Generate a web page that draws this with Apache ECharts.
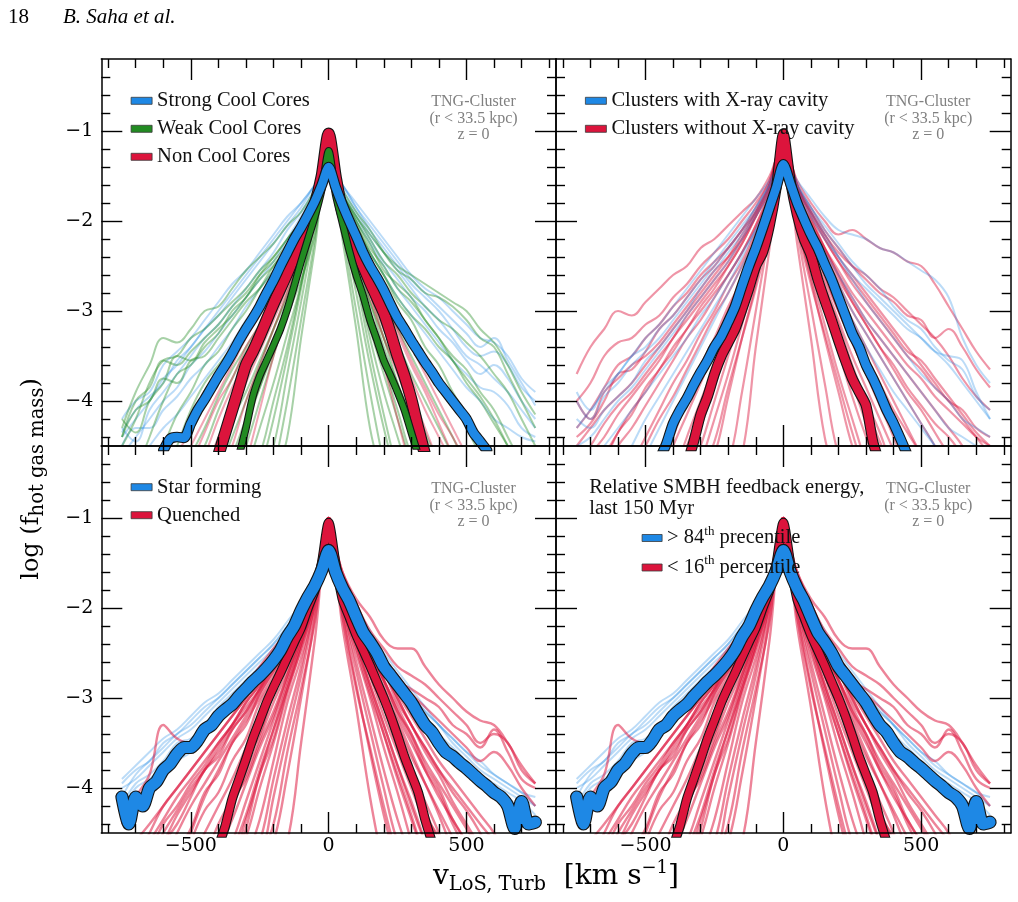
<!DOCTYPE html>
<html><head><meta charset="utf-8">
<script src="https://cdn.jsdelivr.net/npm/echarts@6/dist/echarts.min.js"></script>
<style>html,body{margin:0;padding:0;background:#fff}#c{width:1018px;height:902px}</style>
</head><body><div id="c"></div>
<script>
// ---------------- axis ticks ----------------
const X_MAJOR = [-500, 0, 500];
const X_MINOR = [-800, -700, -600, -400, -300, -200, -100, 100, 200, 300, 400, 600, 700, 800];
const Y_MAJOR = [-4, -3, -2, -1];
const Y_MINOR = [-4.4, -4.2, -3.8, -3.6, -3.4, -3.2, -2.8, -2.6, -2.4, -2.2, -1.8, -1.6, -1.4, -1.2, -0.8, -0.6, -0.4];
const X_RANGE = [-825, 825];
const Y_RANGE = [-4.5, -0.2];

// ---------------- legend labels ----------------
const legendTL = ['Strong Cool Cores', 'Weak Cool Cores', 'Non Cool Cores'];
const legendTR = ['Clusters with X-ray cavity', 'Clusters without X-ray cavity'];
const legendBL = ['Star forming', 'Quenched'];
const legendBR = ['> 84th precentile', '< 16th percentile'];

// ---------------- medians (velocity step 25 km/s, starting at "from") ----------------
const sccMedian = {from: -600, y: [-4.55,-4.42,-4.4,-4.41,-4.25,-4.1,-3.98,-3.85,-3.72,-3.6,-3.47,-3.33,-3.2,-3.08,-2.95,-2.8,-2.66,-2.5,-2.35,-2.2,-2.07,-1.93,-1.78,-1.6,
  -1.4,
  -1.62,-1.82,-2.0,-2.17,-2.35,-2.5,-2.63,-2.77,-2.93,-3.08,-3.2,-3.33,-3.45,-3.57,-3.68,-3.8,-3.9,-4.0,-4.1,-4.2,-4.35,-4.45,-4.55]};
const wccMedian = {from: -325, y: [-4.6,-4.3,-3.95,-3.72,-3.55,-3.38,-3.2,-2.98,-2.72,-2.45,-2.2,-1.95,-1.65,
  -1.22,
  -1.7,-2.02,-2.33,-2.6,-2.83,-3.1,-3.32,-3.55,-3.72,-3.9,-4.1,-4.35,-4.6]};
const nccMedian = {from: -400, y: [-4.6,-4.35,-4.1,-3.85,-3.6,-3.45,-3.28,-3.1,-2.92,-2.75,-2.58,-2.4,-2.23,-2.05,-1.82,-1.5,
  -1.03,
  -1.5,-1.9,-2.1,-2.33,-2.5,-2.68,-2.85,-3.02,-3.25,-3.5,-3.72,-3.98,-4.3,-4.6]};
const cavMedian = {from: -450, y: [-4.65,-4.48,-4.25,-4.1,-3.97,-3.82,-3.68,-3.55,-3.4,-3.28,-3.12,-2.95,-2.72,-2.5,-2.3,-2.08,-1.85,-1.62,
  -1.37,
  -1.58,-1.8,-1.98,-2.15,-2.3,-2.48,-2.65,-2.85,-3.05,-3.25,-3.4,-3.6,-3.75,-3.92,-4.1,-4.25,-4.42,-4.6]};
const nocavMedian = {from: -350, y: [-4.7,-4.45,-4.15,-3.95,-3.7,-3.5,-3.35,-3.2,-2.98,-2.75,-2.5,-2.35,-2.05,-1.62,
  -1.03,
  -1.55,-1.93,-2.2,-2.38,-2.65,-2.88,-3.1,-3.33,-3.55,-3.75,-3.9,-4.05,-4.45,-4.7]};
const sfMedian = {from: -750, y: [-4.1,-4.4,-4.1,-4.2,-4.0,-3.93,-3.8,-3.73,-3.62,-3.55,-3.55,-3.47,-3.35,-3.3,-3.2,-3.13,-3.07,-2.98,-2.9,-2.82,-2.75,-2.67,-2.58,-2.47,-2.32,-2.2,-2.03,-1.88,-1.75,-1.58,
  -1.36,
  -1.6,-1.78,-1.92,-2.1,-2.27,-2.38,-2.5,-2.65,-2.75,-2.85,-2.95,-3.05,-3.18,-3.3,-3.38,-3.5,-3.6,-3.65,-3.72,-3.78,-3.85,-3.92,-3.98,-4.05,-4.1,-4.2,-4.45,-4.15,-4.4,-4.38]};
const qMedian = {from: -400, y: [-4.65,-4.42,-4.12,-3.9,-3.68,-3.45,-3.25,-3.05,-2.88,-2.72,-2.55,-2.38,-2.22,-2.0,-1.8,-1.5,
  -1.05,
  -1.5,-1.9,-2.1,-2.3,-2.47,-2.64,-2.82,-3.0,-3.2,-3.42,-3.65,-3.85,-4.05,-4.35,-4.6]};

// ---------------- individual clusters (velocity step 50 km/s, starting at "from") ----------------
const sccThin = [
  {from:-750, y:[-4.4,-4.2,-4.0,-3.75,-3.6,-3.4,-3.2,-3.0,-2.8,-2.6,-2.4,-2.2,-2.0,-1.8,-1.6,-1.4,-1.6,-1.85,-2.1,-2.3,-2.5,-2.7,-2.85,-3.0,-3.2,-3.4,-3.5,-3.45,-3.6,-3.85,-4.0]},
  {from:-750, y:[-4.6,-4.4,-4.2,-4.0,-3.85,-3.6,-3.45,-3.25,-3.05,-2.85,-2.65,-2.45,-2.2,-1.95,-1.7,-1.45,-1.7,-1.95,-2.2,-2.45,-2.65,-2.85,-3.0,-3.2,-3.35,-3.55,-3.7,-3.6,-3.75,-4.0,-4.2]},
  {from:-700, y:[-4.7,-4.5,-4.3,-4.15,-3.95,-3.75,-3.55,-3.35,-3.1,-2.9,-2.65,-2.4,-2.1,-1.8,-1.45,-1.8,-2.1,-2.35,-2.6,-2.85,-3.05,-3.25,-3.45,-3.65,-3.85,-4.0,-4.2,-4.3,-4.4,-4.45]},
  {from:-750, y:[-4.2,-4.0,-3.9,-3.6,-3.45,-3.3,-3.1,-2.9,-2.7,-2.55,-2.35,-2.15,-1.95,-1.8,-1.6,-1.35,-1.6,-1.8,-2.0,-2.2,-2.4,-2.6,-2.75,-2.85,-3.0,-3.15,-3.3,-3.35,-3.5,-3.75,-3.9]},
  {from:-750, y:[-4.5,-4.3,-4.3,-4.1,-3.95,-3.75,-3.6,-3.4,-3.2,-2.95,-2.75,-2.55,-2.3,-2.05,-1.75,-1.4,-1.75,-2.0,-2.25,-2.5,-2.75,-2.95,-3.15,-3.35,-3.55,-3.7,-3.85,-3.9,-4.05,-4.3,-4.4]},
  {from:-750, y:[-4.3,-4.45,-4.1,-3.9,-3.7,-3.5,-3.3,-3.15,-2.95,-2.75,-2.55,-2.35,-2.1,-1.9,-1.65,-1.4,-1.65,-1.9,-2.15,-2.35,-2.55,-2.75,-2.95,-3.1,-3.3,-3.5,-3.6,-3.75,-3.9,-4.1,-4.3]},
  {from:-750, y:[-4.35,-4.1,-3.95,-3.8,-3.55,-3.4,-3.2,-3.05,-2.85,-2.65,-2.45,-2.25,-2.05,-1.85,-1.6,-1.4,-1.6,-1.85,-2.05,-2.25,-2.45,-2.65,-2.8,-2.95,-3.1,-3.25,-3.4,-3.3,-3.55,-3.8,-4.05]}
];
const wccThin = [
  {from:-200, y:[-4.9,-4.4,-3.3,-2.3,-1.25,-2.2,-3.2,-4.3,-4.9]},
  {from:-200, y:[-4.8,-4.0,-3.1,-2.2,-1.2,-2.1,-3.0,-3.9,-4.7]},
  {from:-250, y:[-4.9,-4.5,-3.7,-2.9,-2.05,-1.15,-2.0,-2.8,-3.6,-4.3,-4.9]},
  {from:-300, y:[-4.9,-4.6,-4.0,-3.4,-2.7,-1.95,-1.2,-1.9,-2.6,-3.3,-3.9,-4.4,-4.9]},
  {from:-350, y:[-4.9,-4.5,-4.0,-3.5,-3.0,-2.5,-1.9,-1.25,-1.85,-2.5,-3.1,-3.6,-4.1,-4.6,-4.9]},
  {from:-400, y:[-4.8,-4.4,-4.0,-3.6,-3.2,-2.8,-2.35,-1.85,-1.3,-1.8,-2.3,-2.8,-3.3,-3.8,-4.2,-4.6,-4.9]},
  {from:-500, y:[-4.8,-4.5,-4.1,-3.75,-3.45,-3.2,-2.9,-2.6,-2.25,-1.8,-1.3,-1.75,-2.2,-2.6,-3.0,-3.35,-3.7,-4.0,-4.3,-4.6,-4.9]},
  {from:-700, y:[-4.8,-4.4,-4.0,-3.7,-3.6,-3.4,-3.25,-3.0,-2.85,-2.6,-2.4,-2.2,-2.0,-1.7,-1.35,-1.7,-2.0,-2.25,-2.55,-2.7,-2.85,-3.1,-3.3,-3.55,-3.75,-3.95,-4.2,-4.5,-4.8]},
  {from:-750, y:[-4.3,-3.9,-3.6,-3.3,-3.35,-3.2,-3.0,-2.95,-2.75,-2.55,-2.4,-2.25,-2.05,-1.9,-1.65,-1.35,-1.7,-1.95,-2.2,-2.45,-2.6,-2.8,-2.95,-3.1,-3.2,-3.35,-3.5,-3.7,-3.9,-4.2,-4.5]},
  {from:-750, y:[-4.5,-4.2,-3.8,-3.55,-3.5,-3.3,-3.2,-3.05,-2.9,-2.75,-2.55,-2.4,-2.2,-2.0,-1.7,-1.3,-1.65,-1.9,-2.1,-2.35,-2.55,-2.65,-2.8,-2.85,-2.95,-3.1,-3.3,-3.4,-3.7,-4.0,-4.3]},
  {from:-600, y:[-4.9,-4.5,-4.1,-3.8,-3.6,-3.4,-3.2,-3.0,-2.75,-2.5,-2.2,-1.8,-1.3,-1.8,-2.15,-2.45,-2.75,-3.0,-3.3,-3.5,-3.75,-4.0,-4.3,-4.6,-4.9]},
  {from:-750, y:[-4.4,-4.1,-4.0,-3.75,-3.8,-3.55,-3.5,-3.3,-3.1,-2.9,-2.75,-2.55,-2.35,-2.1,-1.75,-1.3,-1.75,-2.05,-2.35,-2.6,-2.85,-3.05,-3.2,-3.4,-3.55,-3.8,-4.0,-4.25,-4.5,-4.8]},
  {from:-450, y:[-4.9,-4.5,-4.2,-3.9,-3.55,-3.2,-2.85,-2.45,-1.95,-1.25,-1.95,-2.45,-2.9,-3.3,-3.65,-4.0,-4.35,-4.7]},
  {from:-300, y:[-4.8,-4.3,-3.8,-3.25,-2.7,-2.0,-1.2,-2.0,-2.65,-3.2,-3.7,-4.2,-4.7]},
  {from:-350, y:[-4.8,-4.3,-3.85,-3.4,-2.95,-2.45,-1.9,-1.2,-1.9,-2.4,-2.9,-3.4,-3.8,-4.2,-4.7]},
  {from:-550, y:[-4.9,-4.6,-4.3,-3.95,-3.65,-3.4,-3.15,-2.85,-2.55,-2.2,-1.8,-1.25,-1.8,-2.2,-2.55,-2.9,-3.2,-3.5,-3.8,-4.1,-4.4,-4.7,-4.9]},
  {from:-650, y:[-4.8,-4.5,-4.15,-3.9,-3.6,-3.45,-3.2,-3.0,-2.75,-2.5,-2.3,-2.05,-1.8,-1.3,-1.75,-2.05,-2.35,-2.6,-2.9,-3.1,-3.4,-3.6,-3.9,-4.15,-4.45,-4.8]},
  {from:-750, y:[-4.4,-4.0,-3.85,-3.55,-3.6,-3.45,-3.3,-3.15,-2.95,-2.8,-2.6,-2.45,-2.25,-2.0,-1.7,-1.3,-1.7,-2.0,-2.3,-2.5,-2.75,-2.9,-3.1,-3.3,-3.5,-3.65,-3.9,-4.1,-4.4,-4.7]},
  {from:-400, y:[-4.9,-4.6,-4.2,-3.85,-3.45,-3.05,-2.65,-2.15,-1.25,-2.1,-2.6,-3.05,-3.5,-3.9,-4.3,-4.7]},
  {from:-250, y:[-4.8,-4.2,-3.5,-2.75,-1.95,-1.2,-1.9,-2.65,-3.45,-4.15,-4.8]},
  {from:-750, y:[-4.2,-4.35,-4.0,-3.8,-3.5,-3.55,-3.35,-3.2,-3.05,-2.85,-2.65,-2.5,-2.3,-2.05,-1.75,-1.35,-1.7,-1.95,-2.15,-2.35,-2.5,-2.6,-2.7,-2.8,-2.9,-3.0,-3.2,-3.35,-3.6,-3.9,-4.15]}
];
const nccThin = [
  {from:-500, y:[-4.9,-4.6,-4.2,-3.85,-3.55,-3.25,-2.95,-2.6,-2.25,-1.8,-1.05,-1.8,-2.25,-2.65,-3.0,-3.4,-3.75,-4.1,-4.4,-4.7]},
  {from:-450, y:[-4.9,-4.6,-4.2,-3.8,-3.45,-3.1,-2.75,-2.35,-1.85,-1.0,-1.85,-2.35,-2.8,-3.2,-3.6,-4.0,-4.4,-4.8]},
  {from:-550, y:[-4.8,-4.5,-4.2,-3.9,-3.6,-3.3,-3.05,-2.8,-2.5,-2.15,-1.75,-1.1,-1.75,-2.15,-2.5,-2.85,-3.2,-3.55,-3.85,-4.15,-4.4,-4.7]},
  {from:-300, y:[-4.7,-4.1,-3.5,-3.0,-2.5,-1.9,-1.0,-1.9,-2.5,-3.05,-3.6,-4.2,-4.8]},
  {from:-400, y:[-4.9,-4.5,-4.0,-3.6,-3.2,-2.8,-2.4,-1.9,-1.05,-1.9,-2.4,-2.85,-3.3,-3.7,-4.1,-4.5,-4.9]},
  {from:-550, y:[-4.6,-4.3,-4.0,-3.75,-3.45,-3.2,-2.95,-2.7,-2.45,-2.1,-1.7,-1.1,-1.7,-2.1,-2.45,-2.75,-3.1,-3.4,-3.7,-4.0,-4.3,-4.6]},
  {from:-450, y:[-4.8,-4.4,-4.05,-3.7,-3.4,-3.05,-2.7,-2.3,-1.85,-1.05,-1.85,-2.3,-2.75,-3.15,-3.55,-3.9,-4.3,-4.7]},
  {from:-500, y:[-4.7,-4.35,-4.0,-3.75,-3.4,-3.15,-2.85,-2.55,-2.2,-1.75,-1.05,-1.75,-2.2,-2.55,-2.9,-3.25,-3.6,-3.9,-4.25,-4.6]}
];
const cavThin = [
  {from:-750, y:[-4.3,-4.1,-3.9,-3.7,-3.5,-3.3,-3.15,-2.95,-2.75,-2.55,-2.35,-2.15,-1.95,-1.75,-1.55,-1.3,-1.55,-1.75,-1.95,-2.1,-2.15,-2.2,-2.3,-2.35,-2.45,-2.55,-2.65,-2.85,-3.3,-3.6,-3.8]},
  {from:-750, y:[-4.5,-4.4,-4.2,-4.0,-3.85,-3.65,-3.45,-3.25,-3.05,-2.85,-2.65,-2.45,-2.2,-1.95,-1.7,-1.35,-1.7,-1.95,-2.2,-2.4,-2.6,-2.75,-2.9,-3.05,-3.2,-3.3,-3.45,-3.6,-3.8,-4.0,-4.2]},
  {from:-750, y:[-4.2,-4.3,-4.1,-3.95,-3.8,-3.55,-3.4,-3.2,-3.0,-2.75,-2.55,-2.35,-2.15,-1.9,-1.65,-1.35,-1.65,-1.9,-2.15,-2.4,-2.65,-2.9,-3.1,-3.3,-3.5,-3.7,-3.85,-4.0,-4.2,-4.3,-4.4]},
  {from:-700, y:[-4.7,-4.5,-4.3,-4.1,-3.9,-3.7,-3.5,-3.3,-3.05,-2.85,-2.6,-2.35,-2.1,-1.8,-1.4,-1.8,-2.1,-2.35,-2.6,-2.85,-3.1,-3.3,-3.5,-3.7,-3.9,-4.1,-4.3,-4.4,-4.5,-4.6]},
  {from:-750, y:[-4.0,-4.2,-3.95,-3.8,-3.6,-3.45,-3.3,-3.1,-2.9,-2.7,-2.5,-2.3,-2.1,-1.85,-1.6,-1.3,-1.6,-1.85,-2.1,-2.3,-2.5,-2.7,-2.85,-3.0,-3.15,-3.3,-3.45,-3.5,-3.55,-3.9,-4.2]},
  {from:-550, y:[-4.9,-4.6,-4.3,-4.0,-3.7,-3.4,-3.1,-2.8,-2.5,-2.2,-1.85,-1.35,-1.85,-2.2,-2.5,-2.8,-3.1,-3.4,-3.65,-3.9,-4.1,-4.3,-4.5]},
  {from:-750, y:[-3.9,-4.1,-3.85,-3.7,-3.5,-3.4,-3.2,-3.05,-2.85,-2.65,-2.45,-2.25,-2.05,-1.85,-1.6,-1.3,-1.6,-1.85,-2.05,-2.25,-2.45,-2.6,-2.75,-2.95,-3.1,-3.2,-3.4,-3.55,-3.65,-3.95,-4.1]},
  {from:-600, y:[-4.8,-4.5,-4.2,-3.95,-3.7,-3.45,-3.2,-2.95,-2.7,-2.4,-2.1,-1.75,-1.35,-1.75,-2.1,-2.4,-2.7,-3.0,-3.25,-3.5,-3.75,-4.0,-4.25,-4.5,-4.8]}
];
const nocavThin = [
  {from:-200, y:[-4.9,-4.6,-3.4,-2.3,-1.1,-2.25,-3.3,-4.4,-4.9]},
  {from:-250, y:[-4.9,-4.7,-3.9,-3.0,-2.1,-1.05,-2.1,-2.95,-3.8,-4.6,-4.9]},
  {from:-300, y:[-4.9,-4.6,-3.95,-3.3,-2.7,-2.0,-1.05,-2.0,-2.65,-3.3,-3.9,-4.5,-4.9]},
  {from:-350, y:[-4.9,-4.5,-4.0,-3.5,-3.0,-2.5,-1.95,-1.0,-1.9,-2.45,-2.95,-3.45,-3.95,-4.4,-4.8]},
  {from:-400, y:[-4.9,-4.5,-4.1,-3.7,-3.3,-2.85,-2.4,-1.85,-1.0,-1.85,-2.35,-2.8,-3.25,-3.65,-4.05,-4.45,-4.8]},
  {from:-450, y:[-4.9,-4.5,-4.15,-3.8,-3.45,-3.1,-2.75,-2.3,-1.8,-1.05,-1.8,-2.3,-2.7,-3.1,-3.5,-3.85,-4.2,-4.55,-4.9]},
  {from:-550, y:[-4.8,-4.5,-4.2,-3.95,-3.65,-3.35,-3.05,-2.8,-2.5,-2.15,-1.7,-1.0,-1.7,-2.15,-2.55,-2.9,-3.2,-3.5,-3.8,-4.1,-4.35,-4.6,-4.9]},
  {from:-650, y:[-4.8,-4.5,-4.3,-4.05,-3.8,-3.55,-3.3,-3.1,-2.85,-2.6,-2.35,-2.05,-1.65,-1.05,-1.65,-2.05,-2.4,-2.7,-3.0,-3.25,-3.5,-3.75,-4.0,-4.25,-4.5,-4.8]},
  {from:-750, y:[-4.3,-4.1,-3.85,-3.6,-3.5,-3.3,-3.15,-2.95,-2.8,-2.6,-2.45,-2.3,-2.1,-1.9,-1.6,-1.1,-1.6,-1.95,-2.2,-2.45,-2.7,-2.9,-3.1,-3.3,-3.5,-3.65,-3.85,-4.0,-4.2,-4.4,-4.6]},
  {from:-750, y:[-3.7,-3.4,-3.2,-3.0,-3.05,-2.9,-2.75,-2.6,-2.5,-2.3,-2.2,-2.05,-1.9,-1.75,-1.5,-1.15,-1.6,-1.9,-2.15,-2.4,-2.6,-2.8,-3.0,-3.2,-3.4,-3.6,-3.8,-4.0,-4.1,-4.3,-4.4]},
  {from:-750, y:[-4.5,-4.3,-4.1,-3.95,-3.8,-3.6,-3.4,-3.2,-3.0,-2.8,-2.6,-2.4,-2.15,-1.9,-1.6,-1.15,-1.55,-1.8,-2.0,-2.15,-2.1,-2.2,-2.3,-2.35,-2.45,-2.5,-2.7,-2.95,-3.2,-3.45,-3.65]},
  {from:-750, y:[-4.0,-3.8,-3.5,-3.35,-3.3,-3.15,-3.05,-2.85,-2.7,-2.5,-2.35,-2.2,-2.0,-1.8,-1.55,-1.1,-1.6,-1.85,-2.1,-2.3,-2.5,-2.65,-2.8,-2.9,-3.05,-3.1,-3.3,-3.2,-3.4,-3.65,-3.85]},
  {from:-750, y:[-4.9,-4.6,-4.4,-4.15,-3.95,-3.75,-3.55,-3.3,-3.1,-2.9,-2.7,-2.5,-2.25,-1.95,-1.65,-1.05,-1.7,-2.0,-2.3,-2.6,-2.85,-3.1,-3.3,-3.5,-3.7,-3.9,-4.1,-4.3,-4.5,-4.8]},
  {from:-500, y:[-4.9,-4.6,-4.3,-3.95,-3.6,-3.3,-2.95,-2.65,-2.3,-1.85,-1.05,-1.85,-2.3,-2.65,-3.0,-3.35,-3.7,-4.0,-4.35,-4.6,-4.9]},
  {from:-300, y:[-4.7,-4.2,-3.7,-3.15,-2.6,-2.0,-1.0,-2.0,-2.6,-3.15,-3.7,-4.2,-4.7]},
  {from:-700, y:[-4.8,-4.6,-4.35,-4.1,-3.9,-3.65,-3.45,-3.2,-3.0,-2.8,-2.6,-2.35,-2.05,-1.7,-1.1,-1.7,-2.05,-2.35,-2.65,-2.9,-3.15,-3.4,-3.6,-3.85,-4.05,-4.25,-4.4,-4.6,-4.8]},
  {from:-750, y:[-4.0,-4.2,-3.9,-3.75,-3.6,-3.5,-3.35,-3.15,-2.95,-2.75,-2.55,-2.4,-2.2,-1.95,-1.65,-1.1,-1.65,-2.0,-2.3,-2.55,-2.8,-3.0,-3.2,-3.4,-3.6,-3.75,-3.95,-4.1,-4.25,-4.4,-4.5]},
  {from:-450, y:[-4.8,-4.4,-4.0,-3.7,-3.35,-3.0,-2.6,-2.2,-1.75,-1.05,-1.75,-2.2,-2.6,-3.0,-3.35,-3.7,-4.05,-4.4,-4.8]},
  {from:-550, y:[-4.7,-4.4,-4.1,-3.8,-3.55,-3.25,-3.0,-2.7,-2.45,-2.1,-1.7,-1.05,-1.7,-2.1,-2.45,-2.8,-3.1,-3.4,-3.7,-4.0,-4.3,-4.6]},
  {from:-400, y:[-4.85,-4.4,-4.0,-3.6,-3.2,-2.8,-2.35,-1.85,-1.05,-1.85,-2.3,-2.75,-3.15,-3.6,-4.0,-4.35,-4.8]},
  {from:-350, y:[-4.8,-4.3,-3.85,-3.35,-2.9,-2.45,-1.9,-1.05,-1.9,-2.4,-2.9,-3.35,-3.8,-4.25,-4.7]},
  {from:-650, y:[-4.7,-4.35,-4.15,-3.85,-3.65,-3.4,-3.2,-2.95,-2.75,-2.5,-2.25,-1.95,-1.6,-1.05,-1.6,-1.95,-2.3,-2.6,-2.9,-3.15,-3.4,-3.65,-3.9,-4.1,-4.35,-4.6]},
  {from:-750, y:[-4.4,-4.25,-4.0,-3.7,-3.65,-3.45,-3.2,-3.05,-2.85,-2.65,-2.5,-2.3,-2.1,-1.85,-1.55,-1.1,-1.6,-1.9,-2.2,-2.45,-2.65,-2.85,-3.05,-3.25,-3.45,-3.55,-3.75,-3.95,-4.15,-4.35,-4.5]},
  {from:-750, y:[-4.7,-4.5,-4.25,-4.05,-3.9,-3.7,-3.5,-3.3,-3.05,-2.85,-2.65,-2.45,-2.2,-1.9,-1.6,-1.05,-1.65,-1.9,-2.15,-2.35,-2.5,-2.6,-2.75,-2.85,-3.0,-3.15,-3.3,-3.5,-3.75,-3.95,-4.1]},
  {from:-300, y:[-4.8,-4.45,-3.85,-3.3,-2.75,-2.1,-1.05,-2.05,-2.7,-3.25,-3.8,-4.35,-4.85]}
];
const sfThin = [
  {from:-750, y:[-4.0,-3.9,-3.75,-3.6,-3.45,-3.35,-3.2,-3.05,-2.9,-2.75,-2.6,-2.45,-2.25,-2.0,-1.75,-1.35,-1.75,-2.05,-2.35,-2.6,-2.8,-3.0,-3.2,-3.4,-3.55,-3.7,-3.85,-3.95,-4.05,-4.15,-4.3]},
  {from:-750, y:[-4.2,-3.95,-3.85,-3.7,-3.5,-3.45,-3.3,-3.1,-2.95,-2.8,-2.65,-2.5,-2.3,-2.05,-1.8,-1.4,-1.8,-2.1,-2.4,-2.65,-2.85,-3.05,-3.3,-3.45,-3.6,-3.75,-3.9,-4.0,-4.1,-4.25,-4.35]},
  {from:-750, y:[-3.9,-3.75,-3.6,-3.45,-3.35,-3.2,-3.05,-2.95,-2.8,-2.65,-2.5,-2.35,-2.15,-1.95,-1.7,-1.35,-1.7,-2.0,-2.3,-2.5,-2.7,-2.9,-3.1,-3.3,-3.45,-3.6,-3.75,-3.85,-3.95,-4.05,-4.2]},
  {from:-750, y:[-4.35,-4.15,-4.0,-3.85,-3.7,-3.6,-3.4,-3.25,-3.05,-2.9,-2.75,-2.6,-2.4,-2.1,-1.8,-1.4,-1.8,-2.15,-2.45,-2.7,-2.9,-3.15,-3.35,-3.55,-3.7,-3.85,-3.95,-4.1,-4.2,-4.3,-4.4]},
  {from:-750, y:[-4.1,-3.85,-3.7,-3.55,-3.4,-3.3,-3.15,-3.0,-2.85,-2.7,-2.55,-2.4,-2.2,-2.0,-1.75,-1.35,-1.75,-2.0,-2.25,-2.55,-2.75,-2.95,-3.15,-3.3,-3.5,-3.65,-3.8,-3.9,-4.0,-4.1,-4.2]},
  {from:-750, y:[-3.95,-3.8,-3.7,-3.5,-3.4,-3.25,-3.1,-3.0,-2.85,-2.7,-2.55,-2.4,-2.2,-2.0,-1.75,-1.4,-1.8,-2.1,-2.4,-2.6,-2.75,-2.95,-3.15,-3.3,-3.45,-3.6,-3.7,-3.85,-3.95,-4.05,-4.1]},
  {from:-750, y:[-4.25,-4.0,-3.9,-3.75,-3.6,-3.5,-3.35,-3.2,-3.0,-2.85,-2.7,-2.55,-2.35,-2.1,-1.85,-1.4,-1.8,-2.1,-2.4,-2.65,-2.9,-3.1,-3.3,-3.5,-3.65,-3.8,-3.95,-4.05,-4.15,-4.3,-4.45]}
];
const qThin = [
  {from:-200, y:[-4.9,-4.6,-3.5,-2.35,-1.1,-2.2,-3.1,-4.1,-4.9]},
  {from:-250, y:[-4.9,-4.6,-3.85,-3.0,-2.1,-1.05,-2.05,-2.85,-3.6,-4.3,-4.9]},
  {from:-300, y:[-4.9,-4.6,-3.9,-3.25,-2.65,-1.95,-1.0,-1.95,-2.6,-3.2,-3.8,-4.35,-4.8]},
  {from:-350, y:[-4.9,-4.55,-4.0,-3.5,-2.95,-2.45,-1.9,-1.05,-1.85,-2.4,-2.9,-3.4,-3.9,-4.35,-4.8]},
  {from:-400, y:[-4.9,-4.6,-4.15,-3.7,-3.25,-2.8,-2.35,-1.85,-1.0,-1.8,-2.3,-2.75,-3.2,-3.6,-4.0,-4.4,-4.8]},
  {from:-450, y:[-4.9,-4.55,-4.2,-3.85,-3.45,-3.05,-2.7,-2.3,-1.8,-1.05,-1.8,-2.25,-2.65,-3.05,-3.45,-3.8,-4.15,-4.5,-4.9]},
  {from:-500, y:[-4.8,-4.5,-4.2,-3.9,-3.55,-3.2,-2.9,-2.55,-2.2,-1.75,-1.0,-1.75,-2.2,-2.6,-2.95,-3.3,-3.65,-3.95,-4.25,-4.55,-4.85]},
  {from:-600, y:[-4.8,-4.5,-4.2,-3.95,-3.7,-3.45,-3.2,-2.95,-2.7,-2.4,-2.1,-1.7,-1.05,-1.7,-2.1,-2.45,-2.8,-3.1,-3.4,-3.7,-3.95,-4.2,-4.45,-4.7]},
  {from:-700, y:[-4.8,-4.5,-4.2,-4.0,-3.8,-3.6,-3.4,-3.2,-3.0,-2.8,-2.55,-2.3,-2.0,-1.65,-1.1,-1.65,-2.0,-2.35,-2.65,-2.95,-3.2,-3.45,-3.7,-3.9,-4.1,-4.3,-4.5,-4.8]},
  {from:-750, y:[-4.4,-4.1,-3.85,-3.3,-3.45,-3.5,-3.3,-3.15,-3.0,-2.85,-2.65,-2.45,-2.25,-2.0,-1.7,-1.15,-1.7,-2.05,-2.4,-2.7,-3.0,-3.3,-3.55,-3.8,-4.0,-4.2,-4.4,-4.6,-4.9]},
  {from:-750, y:[-4.9,-4.6,-4.4,-4.2,-4.0,-3.8,-3.6,-3.4,-3.2,-3.0,-2.8,-2.6,-2.35,-2.05,-1.7,-1.1,-1.6,-1.95,-2.25,-2.45,-2.65,-2.75,-2.85,-3.0,-3.15,-3.3,-3.5,-3.4,-3.5,-3.8,-3.95]},
  {from:-700, y:[-4.9,-4.6,-4.35,-4.1,-3.9,-3.7,-3.5,-3.3,-3.1,-2.9,-2.65,-2.4,-2.1,-1.75,-1.1,-1.65,-2.0,-2.3,-2.55,-2.75,-2.95,-3.1,-3.25,-3.4,-3.55,-3.7,-3.6,-3.75,-4.0,-4.2]},
  {from:-550, y:[-4.9,-4.5,-4.1,-3.8,-3.5,-3.25,-3.0,-2.75,-2.45,-2.15,-1.75,-1.0,-1.75,-2.15,-2.5,-2.85,-3.2,-3.5,-3.8,-4.1,-4.35,-4.6]},
  {from:-400, y:[-4.9,-4.8,-4.35,-3.85,-3.35,-2.9,-2.45,-1.9,-1.05,-1.9,-2.4,-2.85,-3.3,-3.75,-4.2,-4.6,-4.9]},
  {from:-300, y:[-4.9,-4.8,-4.1,-3.4,-2.75,-2.0,-1.05,-2.0,-2.7,-3.35,-4.0,-4.6,-4.9]},
  {from:-650, y:[-4.8,-4.6,-4.3,-4.05,-3.8,-3.55,-3.3,-3.05,-2.85,-2.6,-2.35,-2.05,-1.7,-1.05,-1.7,-2.05,-2.4,-2.7,-3.0,-3.3,-3.55,-3.8,-4.05,-4.25,-4.5,-4.8]},
  {from:-650, y:[-4.8,-4.5,-4.25,-4.0,-3.8,-3.6,-3.35,-3.15,-2.9,-2.65,-2.4,-2.1,-1.75,-1.1,-1.6,-1.9,-2.1,-2.35,-2.45,-2.45,-2.65,-2.85,-3.0,-3.15,-3.25,-3.3,-3.5,-3.75,-3.95]},
  {from:-450, y:[-4.8,-4.4,-4.1,-3.7,-3.4,-2.95,-2.6,-2.2,-1.75,-1.05,-1.75,-2.2,-2.55,-2.95,-3.25,-3.6,-3.95,-4.3,-4.7]},
  {from:-400, y:[-4.7,-4.35,-3.95,-3.55,-3.2,-2.75,-2.3,-1.8,-1.0,-1.85,-2.3,-2.7,-3.1,-3.5,-3.85,-4.25,-4.6]},
  {from:-350, y:[-4.9,-4.45,-3.85,-3.45,-2.9,-2.4,-1.85,-1.05,-1.9,-2.35,-2.85,-3.3,-3.75,-4.15,-4.6]},
  {from:-550, y:[-4.7,-4.45,-4.05,-3.85,-3.5,-3.3,-2.95,-2.7,-2.45,-2.1,-1.7,-1.05,-1.75,-2.15,-2.5,-2.8,-3.15,-3.4,-3.75,-4.0,-4.35,-4.6]},
  {from:-500, y:[-4.6,-4.25,-4.05,-3.7,-3.45,-3.05,-2.8,-2.45,-2.1,-1.7,-1.0,-1.7,-2.1,-2.5,-2.8,-3.15,-3.45,-3.8,-4.05,-4.4,-4.7]},
  {from:-300, y:[-4.8,-4.35,-3.7,-3.05,-2.55,-1.95,-1.05,-1.95,-2.5,-3.0,-3.55,-4.05,-4.6]},
  {from:-450, y:[-4.9,-4.6,-4.15,-3.9,-3.5,-3.15,-2.75,-2.35,-1.85,-1.0,-1.8,-2.3,-2.75,-3.1,-3.55,-3.9,-4.3,-4.55,-4.9]},
  {from:-600, y:[-4.6,-4.4,-4.1,-3.8,-3.65,-3.35,-3.15,-2.9,-2.6,-2.35,-2.05,-1.65,-1.05,-1.65,-2.05,-2.4,-2.7,-3.05,-3.3,-3.6,-3.85,-4.15,-4.4,-4.65]},
  {from:-350, y:[-4.7,-4.3,-3.8,-3.35,-2.85,-2.4,-1.9,-1.1,-1.95,-2.45,-2.95,-3.4,-3.85,-4.3,-4.8]},
  {from:-250, y:[-4.8,-4.4,-3.6,-2.9,-2.15,-1.1,-2.1,-2.9,-3.55,-4.2,-4.8]},
  {from:-700, y:[-4.9,-4.7,-4.4,-4.2,-3.95,-3.75,-3.5,-3.3,-3.05,-2.85,-2.6,-2.35,-2.0,-1.7,-1.1,-1.65,-1.95,-2.3,-2.55,-2.8,-2.9,-3.0,-3.1,-3.3,-3.4,-3.55,-3.35,-3.6,-3.9,-4.0]}
];

// ---------------- style ----------------
const BLUE = '#1E88E5', GREEN = '#228B22', RED = '#DC143C', EDGE = '#141414';
const SERIF = 'Liberation Serif', MATH = 'DejaVu Serif';
const PW = 454.7, PH = 387;
const PANELS = [
  {left: 101.3, top: 59, xLab: false, yLab: true},
  {left: 556, top: 59, xLab: false, yLab: false},
  {left: 101.3, top: 446, xLab: true, yLab: true},
  {left: 556, top: 446, xLab: true, yLab: false}
];
const fmt = v => (v < 0 ? '\u2212' + Math.abs(v) : String(v));
const tickStyle = {color: '#000', width: 1.4};

const grid = PANELS.map(p => ({left: p.left, top: p.top, width: PW, height: PH, outerBoundsMode: 'none'}));
const xAxis = [], yAxis = [];
PANELS.forEach((p, i) => {
  const bx = {gridIndex: i, type: 'value', min: X_RANGE[0], max: X_RANGE[1], splitLine: {show: false}, z: 10};
  ['bottom', 'top'].forEach(pos => {
    xAxis.push(Object.assign({}, bx, {position: pos,
      axisLine: {show: true, onZero: false, lineStyle: {color: '#000', width: 1.5}},
      axisTick: {show: true, inside: true, length: 21, customValues: X_MAJOR, lineStyle: tickStyle},
      axisLabel: {show: pos === 'bottom' && p.xLab, customValues: X_MAJOR, formatter: fmt, fontFamily: MATH, fontSize: 19, color: '#000', margin: 4}}));
    xAxis.push(Object.assign({}, bx, {position: pos,
      axisLine: {show: false, onZero: false},
      axisTick: {show: true, inside: true, length: 9, customValues: X_MINOR, lineStyle: tickStyle},
      axisLabel: {show: false}}));
  });
  const by = {gridIndex: i, type: 'value', min: Y_RANGE[0], max: Y_RANGE[1], splitLine: {show: false}, z: 10};
  ['left', 'right'].forEach(pos => {
    yAxis.push(Object.assign({}, by, {position: pos,
      axisLine: {show: true, onZero: false, lineStyle: {color: '#000', width: 1.5}},
      axisTick: {show: true, inside: true, length: 21, customValues: Y_MAJOR, lineStyle: tickStyle},
      axisLabel: {show: pos === 'left' && p.yLab, customValues: Y_MAJOR, formatter: fmt, fontFamily: MATH, fontSize: 19, color: '#000', margin: 8}}));
    yAxis.push(Object.assign({}, by, {position: pos,
      axisLine: {show: false, onZero: false},
      axisTick: {show: true, inside: true, length: 9, customValues: Y_MINOR, lineStyle: tickStyle},
      axisLabel: {show: false}}));
  });
});

const toData = (obj, step) => obj.y.map((y, k) => [obj.from + step * k, y]);
const series = [];
function addThin(list, panel, color, opacity, width) {
  list.forEach(obj => series.push({type: 'line', xAxisIndex: 4 * panel, yAxisIndex: 4 * panel,
    data: toData(obj, 50), symbol: 'none', smooth: 0.4, silent: true, animation: false,
    color: color, lineStyle: {color: color, width: width, opacity: opacity}, emphasis: {disabled: true}, z: 2}));
}
function addMedian(obj, panel, color, width, name) {
  const d = toData(obj, 25);
  series.push({type: 'line', xAxisIndex: 4 * panel, yAxisIndex: 4 * panel, data: d, symbol: 'none', smooth: 0.25,
    silent: true, animation: false, color: EDGE, lineStyle: {color: EDGE, width: width + 2.2, cap: 'round', join: 'round'}, emphasis: {disabled: true}, z: 3});
  series.push({type: 'line', name: name, xAxisIndex: 4 * panel, yAxisIndex: 4 * panel, data: d, symbol: 'none', smooth: 0.25,
    silent: true, animation: false, color: color, itemStyle: {color: color}, lineStyle: {color: color, width: width, cap: 'round', join: 'round'}, emphasis: {disabled: true}, z: 3});
}

// Panel 0: cool-core classes
addThin(sccThin, 0, BLUE, 0.3, 2);
addThin(wccThin, 0, GREEN, 0.4, 2);
addThin(nccThin, 0, RED, 0.38, 2);
addMedian(nccMedian, 0, RED, 10, legendTL[2]);
addMedian(wccMedian, 0, GREEN, 5.5, legendTL[1]);
addMedian(sccMedian, 0, BLUE, 8.5, legendTL[0]);
// Panel 1: X-ray cavities
addThin(nocavThin, 1, RED, 0.45, 2.2);
addThin(cavThin, 1, BLUE, 0.3, 2);
addMedian(nocavMedian, 1, RED, 8.5, legendTR[1]);
addMedian(cavMedian, 1, BLUE, 8.5, legendTR[0]);
// Panel 2: star forming / quenched
addThin(sfThin, 2, BLUE, 0.3, 2);
addThin(qThin, 2, RED, 0.52, 2.4);
addMedian(qMedian, 2, RED, 7.5, legendBL[1]);
addMedian(sfMedian, 2, BLUE, 11, legendBL[0]);
// Panel 3: SMBH feedback energy percentiles
addThin(sfThin, 3, BLUE, 0.3, 2);
addThin(qThin, 3, RED, 0.52, 2.4);
addMedian(qMedian, 3, RED, 7.5, legendBR[1]);
addMedian(sfMedian, 3, BLUE, 11, legendBR[0]);

const legBase = {orient: 'vertical', padding: 0, itemWidth: 21, itemHeight: 7, icon: 'rect', selectedMode: false,
  itemStyle: {borderColor: '#3a3a3a', borderWidth: 0.8},
  textStyle: {fontFamily: SERIF, fontSize: 20.5, color: '#111', lineHeight: 20}, itemGap: 7};
const legend = [
  Object.assign({}, legBase, {data: legendTL, left: 130.7, top: 90.3}),
  Object.assign({}, legBase, {data: legendTR, left: 585, top: 90.3}),
  Object.assign({}, legBase, {data: legendBL, left: 130.7, top: 476.7}),
  Object.assign({}, legBase, {data: legendBR, left: 641.7, top: 525, itemWidth: 20, itemGap: 3.5,
    formatter: n => n.replace(/(\d+)th/, '$1{s|th}'),
    textStyle: {fontFamily: SERIF, fontSize: 20.5, color: '#111', lineHeight: 26,
      rich: {s: {fontFamily: SERIF, fontSize: 13, lineHeight: 16, verticalAlign: 'top', color: '#111'}}}})
];

const note = 'TNG-Cluster\n(r < 33.5 kpc)\nz = 0';
const graphic = PANELS.map(p => ({type: 'text', x: p.left + PW - 82.5, y: p.top + 34.8,
  style: {text: note, fontFamily: SERIF, fontSize: 16, lineHeight: 16.5, fill: '#808080', align: 'center', verticalAlign: 'top'}}));
graphic.push(
  {type: 'text', x: 589.3, y: 498, style: {text: 'Relative SMBH feedback energy,\nlast 150 Myr', fontFamily: SERIF, fontSize: 20.5, lineHeight: 21, fill: '#111', align: 'left', verticalAlign: 'middle'}},
  {type: 'text', x: 8, y: 17, style: {text: '18', fontFamily: SERIF, fontSize: 21, fill: '#000', verticalAlign: 'middle'}},
  {type: 'text', x: 63, y: 17, style: {text: 'B. Saha et al.', fontFamily: SERIF, fontStyle: 'italic', fontSize: 21, fill: '#000', verticalAlign: 'middle'}},
  {type: 'text', x: 556, y: 877, style: {text: '{m|v}{s|LoS, Turb}{m|  [km s}{p|\u22121}{m|]}', align: 'center', verticalAlign: 'middle', fill: '#000',
    rich: {m: {fontFamily: MATH, fontSize: 28, lineHeight: 36, fill: '#000'},
           s: {fontFamily: MATH, fontSize: 19.5, lineHeight: 16, verticalAlign: 'bottom', fill: '#000'},
           p: {fontFamily: MATH, fontSize: 18, lineHeight: 16, verticalAlign: 'top', fill: '#000'}}}},
  {type: 'text', x: 32, y: 479, rotation: Math.PI / 2, style: {text: '{m|log (f}{s|hot gas mass}{m|)}', align: 'center', verticalAlign: 'middle', fill: '#000',
    rich: {m: {fontFamily: MATH, fontSize: 24, lineHeight: 32, fill: '#000'},
           s: {fontFamily: MATH, fontSize: 19.5, lineHeight: 16, verticalAlign: 'bottom', fill: '#000'}}}}
);

const chart = echarts.init(document.getElementById('c'), null, {renderer: 'canvas', width: 1018, height: 902});
chart.setOption({animation: false, backgroundColor: '#fff', grid, xAxis, yAxis, series, legend, graphic});
</script></body></html>
